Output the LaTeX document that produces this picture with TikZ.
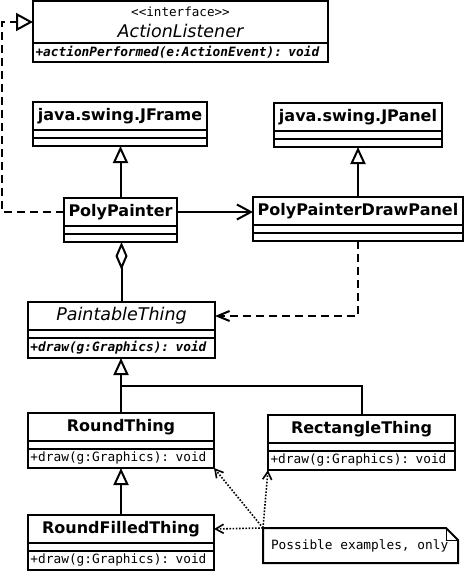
\documentclass[tikz,border=0pt]{standalone}
\usepackage{fontspec}
\setmainfont{DejaVu Sans}
\setmonofont{DejaVu Sans Mono}
\usetikzlibrary{arrows.meta,positioning}
\newcommand\fixspace{\spaceskip0.602em\relax}

\begin{document}
\begin{tikzpicture}[
    x=1pt, y=-1pt,
    line width=2pt,
    node distance=0pt,
    box/.style={draw, outer sep=0pt, inner sep=0pt},
    classname/.style={box, minimum height=28pt, font=\fontsize{16}{18}\selectfont\bfseries},
    abstractname/.style={box, minimum height=28pt, font=\fontsize{17.5}{21}\selectfont\itshape},
    compart/.style={box, minimum height=8pt},
    ops/.style={box, minimum height=19pt, inner xsep=2.5pt, align=left, font=\fontsize{12.8}{15}\selectfont\ttfamily},
    gen/.style={-{Triangle[open, length=17pt, width=15pt]}},
    nav/.style={-{Straight Barb[length=14pt, width=15pt]}},
    dep/.style={dash pattern=on 8pt off 5pt, -{Straight Barb[length=12pt, width=10pt]}},
    realize/.style={dash pattern=on 8pt off 5pt, -{Triangle[open, length=17pt, width=18pt]}},
    aggr/.style={-{Diamond[open, length=28pt, width=12pt]}},
    hint/.style={line width=1.6pt, dash pattern=on 1.6pt off 1.6pt, -{Straight Barb[length=8pt, width=9pt]}}
  ]
  \useasboundingbox (0,0) rectangle (466,573);

  % Interface
  \node[abstractname, minimum width=295pt, minimum height=42pt, align=center] (al) at (180.5,22)
    {{\upshape\ttfamily\fontsize{12.6}{14}\selectfont <{}<interface>{}>}\\ActionListener};
  \node[ops, text width=290pt, below=of al] (alops) {\bfseries\itshape +actionPerformed(e:ActionEvent): void};

  % Swing classes
  \node[classname, minimum width=174pt] (jframe) at (120,116) {java.swing.JFrame};
  \node[compart, minimum width=174pt, below=of jframe] (jframea) {};
  \node[compart, minimum width=174pt, below=of jframea] (jframeb) {};

  \node[classname, minimum width=168pt] (jpanel) at (358,117) {java.swing.JPanel};
  \node[compart, minimum width=168pt, below=of jpanel] (jpanela) {};
  \node[compart, minimum width=168pt, below=of jpanela] (jpanelb) {};

  % Painter
  \node[classname, minimum width=113pt] (pp) at (120.5,212) {PolyPainter};
  \node[compart, minimum width=113pt, below=of pp] (ppa) {};
  \node[compart, minimum width=113pt, below=of ppa] (ppb) {};

  \node[classname, minimum width=210pt] (ppdp) at (358,211) {PolyPainterDrawPanel};
  \node[compart, minimum width=210pt, below=of ppdp] (ppdpa) {};
  \node[compart, minimum width=210pt, below=of ppdpa] (ppdpb) {};

  % Things
  \node[abstractname, minimum width=187pt] (pt) at (121.5,316) {PaintableThing};
  \node[compart, minimum width=187pt, below=of pt] (pta) {};
  \node[ops, text width=182pt, minimum height=20pt, below=of pta] (ptops) {\bfseries\itshape +draw(g:Graphics): void};

  \node[classname, minimum width=186pt] (rt) at (121,427) {RoundThing};
  \node[compart, minimum width=186pt, below=of rt] (rta) {};
  \node[ops, text width=181pt, below=of rta] (rtops) {+draw(g:Graphics): void};

  \node[classname, minimum width=187pt] (rect) at (361.5,429) {RectangleThing};
  \node[compart, minimum width=187pt, below=of rect] (recta) {};
  \node[ops, text width=182pt, below=of recta] (rectops) {+draw(g:Graphics): void};

  \node[classname, minimum width=186pt] (rft) at (121,529) {RoundFilledThing};
  \node[compart, minimum width=186pt, below=of rft] (rfta) {};
  \node[ops, text width=181pt, below=of rfta] (rftops) {+draw(g:Graphics): void};

  % Note
  \node[box, draw=none, text width=179pt, inner xsep=8pt, minimum height=35pt, align=left,
    font=\fontsize{12.8}{15}\selectfont\ttfamily] (note) at (360.5,545.5)
    {\fixspace Possible examples, only};
  \draw (note.north west) -- ([xshift=-12pt]note.north east) -- ([yshift=-12pt]note.north east)
    -- (note.south east) -- (note.south west) -- cycle;
  \draw[line width=1pt] ([xshift=-12pt]note.north east) |- ([yshift=-12pt]note.north east);

  % Relations
  \draw[gen] (pp.north) -- (pp.north |- jframeb.south);
  \draw[gen] (ppdp.north) -- (jpanelb.south);
  \draw[nav] (pp.east) -- (pp.east -| ppdp.west);
  \draw[realize] (pp.west) -- ++(-62,0) |- (al.west);
  \draw[aggr] (pt.north) -- (pt.north |- ppb.south);
  \draw[dep] (ppdpb.south) |- (pt.east);

  \coordinate (j) at (121,386);
  \draw[gen] (rt.north) -- (rt.north |- ptops.south);
  \draw (rect.north) |- (j);
  \draw[gen] (rft.north) -- (rtops.south);

  \draw[hint] (note.north west) -- (rtops.south east);
  \draw[hint] (note.north west) -- (rectops.south west);
  \draw[hint] (note.north west) -- (rft.east);

\end{tikzpicture}
\end{document}
